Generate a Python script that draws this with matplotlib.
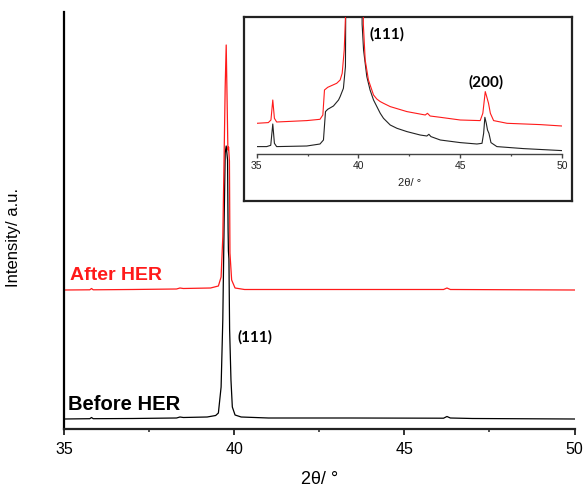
import matplotlib.pyplot as plt
from matplotlib.ticker import MultipleLocator

# XRD patterns, 2theta in degrees, intensity in arbitrary units
# main panel: offset patterns
before_2theta = [35.0, 35.75, 35.80, 35.85, 37.0, 38.3, 38.4, 38.5, 39.2, 39.45,
                 39.53, 39.61, 39.66, 39.70, 39.73, 39.76, 39.80, 39.815, 39.825,
                 39.84, 39.86, 39.90, 39.94, 40.02, 40.2, 41.0, 43.4, 46.15, 46.25,
                 46.35, 47.0, 50.0]
before_int = [10, 10.3, 11.5, 10.3, 10.5, 11, 12, 11.5, 12, 13.5,
              16, 42, 109, 209, 276, 283, 269, 200, 178,
              170, 100, 49, 22, 14, 12, 11, 11, 10.8, 12.5,
              11, 10.5, 10]

after_2theta = [35.0, 35.75, 35.80, 35.85, 37.0, 38.3, 38.4, 38.5, 39.3, 39.53,
                39.61, 39.66, 39.70, 39.73, 39.76, 39.78, 39.81, 39.83, 39.855,
                39.87, 39.92, 40.02, 40.3, 46.15, 46.25, 46.35, 50.0]
after_int = [139, 139.2, 140.5, 139.2, 139.5, 140, 141, 140.5, 141, 143,
             152, 192, 276, 342, 384, 342, 279, 282, 268,
             176, 149, 141, 139.5, 139.5, 141, 139.5, 139]

# inset: magnified patterns around the weak reflections
inset_before_2theta = [35.0, 35.49, 35.69, 35.79, 35.87, 35.98, 37.46, 38.11, 38.28,
                       38.38, 38.49, 38.77, 39.02, 39.10, 39.26, 39.36, 39.44, 39.76,
                       40.13, 40.18, 40.25, 40.41, 40.57, 40.74, 41.07, 41.23, 41.56,
                       41.89, 42.38, 43.03, 43.36, 43.46, 43.56, 44.02, 45.0, 45.82,
                       46.07, 46.15, 46.21, 46.28, 46.34, 46.41, 46.51, 46.80, 48.11,
                       50.0]
inset_before_int = [7.7, 7.7, 9, 30.3, 11, 7.7, 8.3, 10.3, 14.3,
                    42.7, 45, 48.3, 54.3, 57.7, 66, 87.7, 400, 1800,
                    400, 130, 104.3, 77.7, 64.3, 54.3, 41, 36, 29.3,
                    26, 22.7, 19.3, 18.3, 20, 17.7, 14.3, 11.7, 10.3,
                    11, 21, 37, 31, 24.3, 21, 11.7, 7.7, 5.7,
                    3.7]

inset_after_2theta = [35.0, 35.57, 35.70, 35.79, 35.87, 35.98, 37.46, 38.11, 38.25,
                      38.33, 38.49, 38.93, 39.10, 39.20, 39.30, 39.36, 39.44, 39.76,
                      40.18, 40.24, 40.33, 40.49, 40.74, 40.90, 41.07, 41.23, 41.56,
                      42.38, 43.28, 43.39, 43.52, 44.02, 45.0, 45.98, 46.11, 46.23,
                      46.31, 46.39, 46.48, 46.64, 47.30, 48.93, 50.0]
inset_after_int = [31, 31.7, 34.3, 54.3, 36, 32.3, 33.7, 35, 39.3,
                   64.3, 67, 71, 74.3, 81, 104.3, 137, 400, 1800,
                   400, 130, 94.3, 74.3, 59.3, 55.3, 52.7, 51, 47.7,
                   42.7, 39.3, 41, 38.3, 37, 34.3, 33.7, 41, 62.7,
                   57, 51, 41, 33.7, 31, 29.7, 28.3]

tick_font = 'Liberation Sans'
W, H = 583, 490

fig = plt.figure(figsize=(W / 100, H / 100), dpi=100)

# main panel
ax = fig.add_axes([64.3 / W, (H - 429) / H, (574.5 - 64.3) / W, (429 - 12) / H])
ax.plot(before_2theta, before_int, color='black', lw=0.9)
ax.plot(after_2theta, after_int, color='#ff1a1a', lw=0.9)
ax.set_xlim(35, 50)
ax.set_ylim(0, 417)
ax.spines['top'].set_visible(False)
ax.spines['right'].set_visible(False)
ax.spines['left'].set_linewidth(1.6)
ax.spines['bottom'].set_linewidth(1.6)
ax.spines['bottom'].set_color('#222222')
ax.set_yticks([])
ax.xaxis.set_major_locator(MultipleLocator(5))
ax.xaxis.set_minor_locator(MultipleLocator(2.5))
ax.tick_params(axis='x', which='major', direction='out', length=4.5, width=1.3,
               color='#222222', pad=5, labelsize=11.5)
ax.tick_params(axis='x', which='minor', direction='out', length=2.5, width=1.1,
               color='#222222')
for lab in ax.get_xticklabels():
    lab.set_fontfamily(tick_font)
ax.set_xlabel('2θ/ °', fontsize=13, family=tick_font, labelpad=10)
ax.set_ylabel('Intensity/ a.u.', fontsize=12, family=tick_font)
ax.yaxis.set_label_coords(-0.085, 0.46)

ax.text(35.17, 154, 'After HER', color='#ff1a1a', fontsize=14, fontweight='bold',
        family=tick_font, va='center')
ax.text(35.11, 25, 'Before HER', color='black', fontsize=14.5, fontweight='bold',
        family=tick_font, va='center')
ax.text(40.08, 92, '(111)', color='black', fontsize=11, fontweight='bold',
        family='Lato', va='center')

# inset frame
frame = fig.add_axes([244 / W, (H - 201) / H, (572 - 244) / W, (201 - 17) / H])
frame.set_xticks([])
frame.set_yticks([])
for sp in frame.spines.values():
    sp.set_linewidth(1.6)
    sp.set_color('#222222')

# inset data
ins = fig.add_axes([256.7 / W, (H - 154.3) / H, (562 - 256.7) / W, (154.3 - 17.3) / H])
ins.patch.set_alpha(0)
ins.plot(inset_before_2theta, inset_before_int, color='#222222', lw=0.8)
ins.plot(inset_after_2theta, inset_after_int, color='#ff1a1a', lw=0.8)
ins.set_xlim(35, 50)
ins.set_ylim(0, 137)
for side in ['top', 'right', 'left']:
    ins.spines[side].set_visible(False)
ins.spines['bottom'].set_linewidth(1.0)
ins.spines['bottom'].set_color('#444444')
ins.set_yticks([])
ins.xaxis.set_major_locator(MultipleLocator(5))
ins.xaxis.set_minor_locator(MultipleLocator(2.5))
ins.tick_params(axis='x', which='major', direction='out', length=3, width=1.0,
                color='#444444', pad=2, labelsize=7.5, labelcolor='#222222')
ins.tick_params(axis='x', which='minor', direction='out', length=1.5, width=0.9,
                color='#444444')
for lab in ins.get_xticklabels():
    lab.set_fontfamily(tick_font)
ins.set_xlabel('2θ/ °', fontsize=8, family=tick_font, labelpad=5, color='#222222')

ins.text(40.55, 120, '(111)', fontsize=11, fontweight='bold', family='Lato', va='center')
ins.text(45.4, 71.5, '(200)', fontsize=11, fontweight='bold', family='Lato', va='center')

fig.savefig('out.png', dpi=100)
